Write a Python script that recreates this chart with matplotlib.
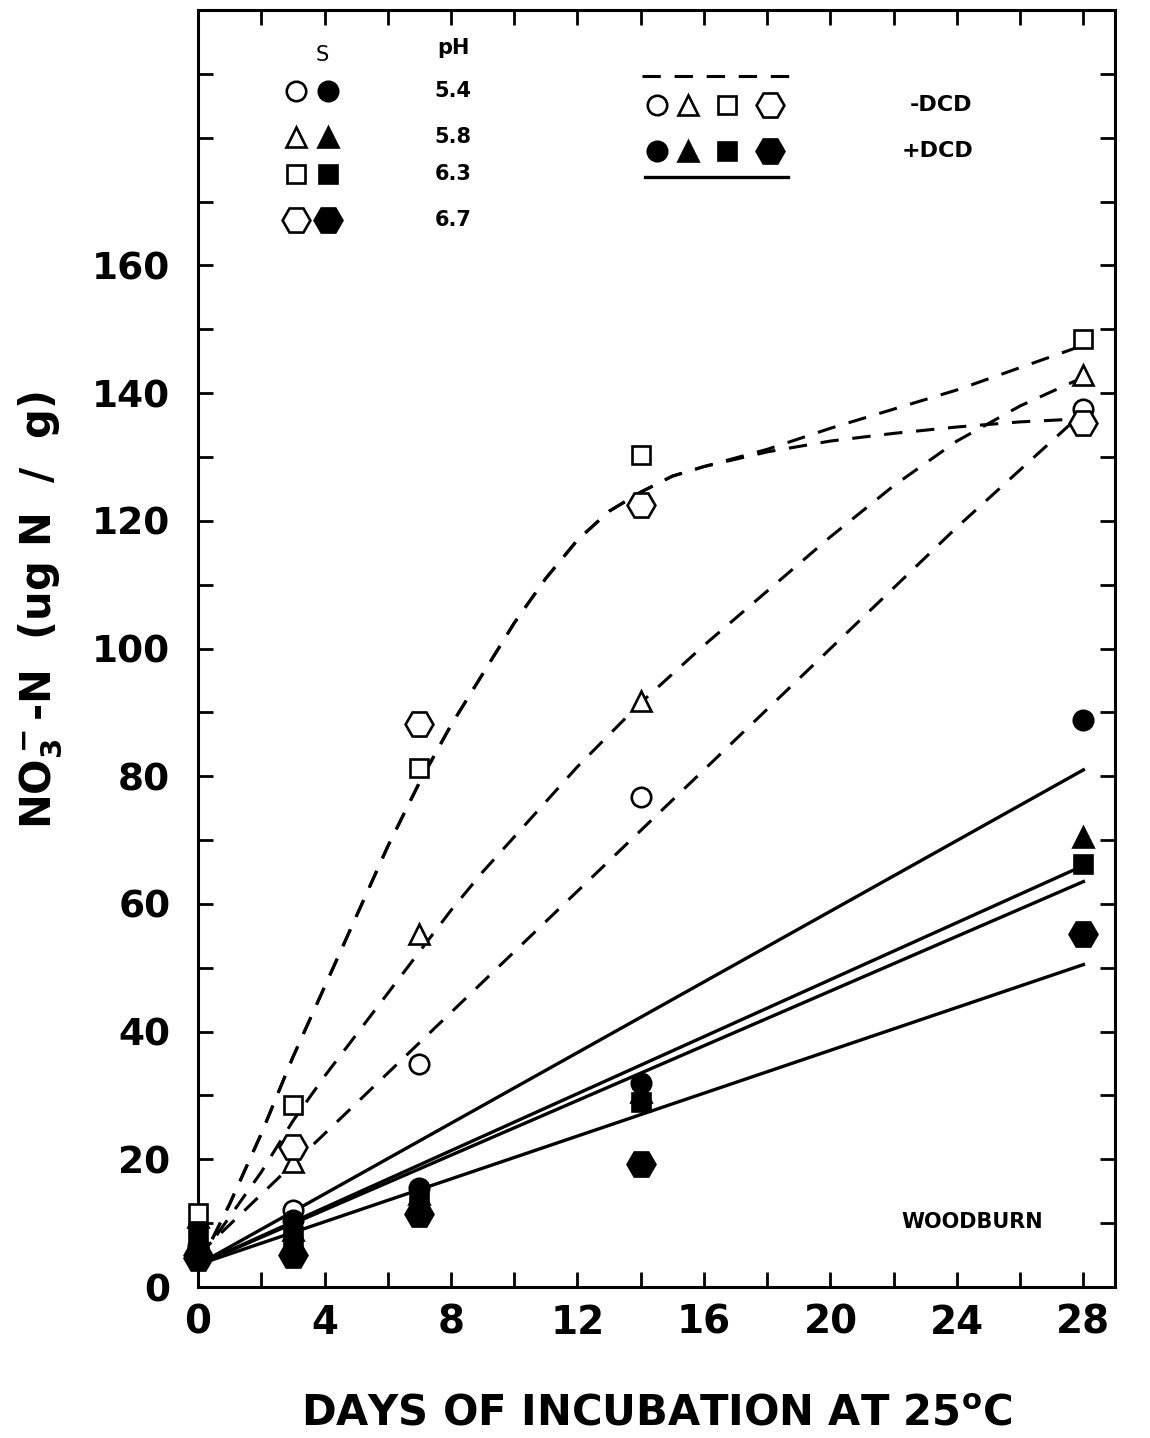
import matplotlib
matplotlib.use("Agg")
import matplotlib.pyplot as plt
from matplotlib.ticker import MultipleLocator

plt.rcParams['font.family'] = 'DejaVu Sans'
plt.rcParams['font.weight'] = 'bold'
plt.rcParams['mathtext.default'] = 'bf'

# sampling days
days = [0, 3, 7, 14, 28]

# -DCD (open symbols)
circ_open = [6, 12, 35, 76.7, 137.5]
tri_open = [11, 19.6, 55.3, 91.8, 142.8]
sq_open = [11.6, 28.5, 81.3, 130.3, 148.5]
hex_open = [5, 22, 88.2, 122.5, 135.3]

# +DCD (filled symbols)
circ_fill = [6.5, 10.5, 15.5, 32, 88.8]
tri_fill = [7.5, 9, 14.5, 30.5, 70.5]
sq_fill = [8.5, 8, 13.5, 29, 66.3]
hex_fill = [4.5, 5, 11.5, 19.2, 55.3]

# dashed fitted curves (-DCD)
sq_cx = [0, 1, 2, 3, 4, 5, 6, 7, 8, 9, 10, 11, 12, 13, 14, 15, 16, 18, 20, 22, 24, 26, 28]
sq_cy = [3, 13, 24, 36, 47, 58, 69, 79, 88, 96, 104, 111, 117, 121.5, 124.5, 127, 128.5,
         131.2, 134.5, 137.5, 140.5, 144, 147.5]
hex_cy = [3, 13, 24, 36, 47, 58, 69, 79, 88, 96, 104, 111, 117, 121.5, 124.5, 127, 128.5,
          130.8, 132.5, 133.7, 134.7, 135.5, 136]
tri_cx = [0, 1, 2, 3, 4, 5, 6, 7, 8, 9, 10, 11, 12, 13, 14, 15, 16, 18, 20, 22, 24, 26, 28]
tri_cy = [4, 11, 18, 26, 33, 39.5, 46, 52.5, 59, 65, 70.5, 76, 81.5, 86.5, 91.5, 96, 100.5,
          109, 117.5, 125.5, 132.5, 138, 142.5]
circ_cx = [0, 2, 4, 6, 8, 10, 12, 14, 16, 18, 20, 22, 24, 26, 28]
circ_cy = [5, 14.5, 24, 33.5, 43, 52.5, 62, 71.5, 81, 90.5, 100, 109.5, 119, 128, 137]

# solid regression lines (+DCD)
fit_x = [0, 28]
fit_circ = [3.5, 81]
fit_tri = [3.5, 66]
fit_sq = [3.5, 63.5]
fit_hex = [3.5, 50.5]

fig = plt.figure(figsize=(11.5, 14.38), dpi=100)
ax = fig.add_axes([0.1722, 0.105, 0.7974, 0.888])

dash = (0, (6, 4.5))
for cx, cy in [(sq_cx, sq_cy), (sq_cx, hex_cy), (tri_cx, tri_cy), (circ_cx, circ_cy)]:
    ax.plot(cx, cy, color='black', lw=2.2, ls=dash, zorder=2)
for fy in [fit_circ, fit_tri, fit_sq, fit_hex]:
    ax.plot(fit_x, fy, color='black', lw=2.4, zorder=2)

marks = [('o', 14), ('^', 15), ('s', 13.5), ('H', 20)]
opens = [circ_open, tri_open, sq_open, hex_open]
fills = [circ_fill, tri_fill, sq_fill, hex_fill]
for (m, ms), vals in zip(marks, opens):
    ax.plot(days, vals, ls='none', marker=m, ms=ms, mfc='white', mec='black', mew=1.9,
            zorder=3, clip_on=False)
for (m, ms), vals in zip(marks, fills):
    ax.plot(days, vals, ls='none', marker=m, ms=ms, mfc='black', mec='black', mew=1.9,
            zorder=4, clip_on=False)

ax.set_xlim(0, 29.0)
ax.set_ylim(0, 200)
ax.set_xticks(range(0, 29, 4))
ax.xaxis.set_minor_locator(MultipleLocator(2))
ax.set_yticks(range(0, 161, 20))
ax.yaxis.set_minor_locator(MultipleLocator(10))
ax.tick_params(which='both', direction='in', length=11, width=2, top=True, right=True)
ax.tick_params(axis='y', labelsize=27, pad=20)
ax.tick_params(axis='x', labelsize=28, pad=12)
for s in ax.spines.values():
    s.set_linewidth(2.2)

ax.text(-0.172, 0.53, r'NO$_3^-$-N  (ug N  /  g)', rotation=90, ha='center', va='center',
        fontsize=30, fontweight='bold', transform=ax.transAxes)
ax.text(0.50, -0.099, r'DAYS OF INCUBATION AT 25$^{\mathbf{o}}$C', ha='center', va='center',
        fontsize=30, fontweight='bold', transform=ax.transAxes)

# legend: soil pH symbols
leg_ph = ['5.4', '5.8', '6.3', '6.7']
rows = [0.937, 0.9005, 0.872, 0.8355]
ax.text(0.135, 0.965, 'S', ha='center', va='center', fontsize=15, fontweight='normal',
        transform=ax.transAxes)
ax.text(0.278, 0.970, 'pH', ha='center', va='center', fontsize=15, transform=ax.transAxes)
for (m, ms), ry, lab in zip(marks, rows, leg_ph):
    ax.plot([0.107], [ry], marker=m, ms=ms, mfc='white', mec='black', mew=1.9,
            transform=ax.transAxes, clip_on=False)
    ax.plot([0.142], [ry], marker=m, ms=ms, mfc='black', mec='black', mew=1.9,
            transform=ax.transAxes, clip_on=False)
    ax.text(0.278, ry, lab, ha='center', va='center', fontsize=15, transform=ax.transAxes)

# legend: DCD treatment
ax.plot([0.484, 0.659], [0.948, 0.948], color='black', lw=2.2, ls=dash, transform=ax.transAxes)
ax.plot([0.487, 0.643], [0.869, 0.869], color='black', lw=2.4, transform=ax.transAxes)
for (m, ms), lx in zip(marks, [0.5005, 0.534, 0.577, 0.624]):
    ax.plot([lx], [0.9256], marker=m, ms=ms, mfc='white', mec='black', mew=1.9,
            transform=ax.transAxes)
    ax.plot([lx], [0.890], marker=m, ms=ms, mfc='black', mec='black', mew=1.9,
            transform=ax.transAxes)
ax.text(0.810, 0.9256, '-DCD', ha='center', va='center', fontsize=16, transform=ax.transAxes)
ax.text(0.806, 0.890, '+DCD', ha='center', va='center', fontsize=16, transform=ax.transAxes)

ax.text(0.844, 0.051, 'WOODBURN', ha='center', va='center', fontsize=15,
        transform=ax.transAxes)

fig.savefig('out.png', dpi=100)
